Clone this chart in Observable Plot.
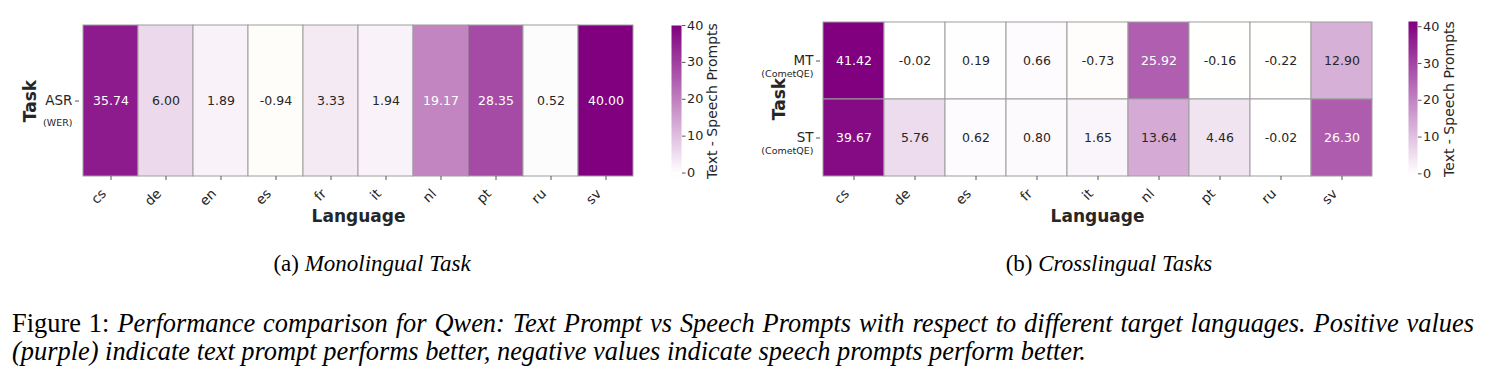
<!DOCTYPE html>
<html>
<head>
<meta charset="utf-8">
<script src="https://cdn.jsdelivr.net/npm/d3@7"></script>
<script src="https://cdn.jsdelivr.net/npm/@observablehq/plot@0.6"></script>
<style>
  body { margin: 0; background: #fff; }
  #figure { position: relative; width: 1486px; height: 382px; overflow: hidden; background: #fff; }
  .slot { position: absolute; top: 0; }
  .subcaption, .caption {
    position: absolute; font-family: "Liberation Serif", "Times New Roman", serif; color: #000; white-space: nowrap;
  }
  .subcaption { font-size: 23px; top: 251px; text-align: center; }
  .caption { font-size: 26.4px; left: 12px; line-height: 28px; }
  .caption.first { top: 309px; width: 1462px; text-align: justify; text-align-last: justify; }
  .caption.second { top: 337px; }
  em { font-style: italic; }
</style>
</head>
<body>
<div id="figure"></div>
<script>
// Text-prompt minus speech-prompt scores per target language
const monoLanguages = ["cs", "de", "en", "es", "fr", "it", "nl", "pt", "ru", "sv"];
const monoTasks = ["ASR"];
const monoMetrics = ["(WER)"];
const asrDiff = [35.74, 6.00, 1.89, -0.94, 3.33, 1.94, 19.17, 28.35, 0.52, 40.00];

const crossLanguages = ["cs", "de", "es", "fr", "it", "nl", "pt", "ru", "sv"];
const crossTasks = ["MT", "ST"];
const crossMetrics = ["(CometQE)", "(CometQE)"];
const mtDiff = [41.42, -0.02, 0.19, 0.66, -0.73, 25.92, -0.16, -0.22, 12.90];
const stDiff = [39.67, 5.76, 0.62, 0.80, 1.65, 13.64, 4.46, -0.02, 26.30];

const colorbarTicks = [0, 10, 20, 30, 40];
const colorbarLabel = "Text - Speech Prompts";
const xTitle = "Language";
const yTitle = "Task";

// Diverging map centred on zero: orange (negative) -> white -> purple (positive)
const colorRange = ["#ffa500", "#ffffff", "#800080"];
const darkText = "#262626";
const tickColor = "#555";
const fontFamily = "DejaVu Sans, sans-serif";

function relativeLuminance(c) {
  const {r, g, b} = d3.rgb(c);
  const lin = (v) => { v /= 255; return v <= 0.03928 ? v / 12.92 : Math.pow((v + 0.055) / 1.055, 2.4); };
  return 0.2126 * lin(r) + 0.7152 * lin(g) + 0.0722 * lin(b);
}

function place(node, left) {
  const slot = document.createElement("div");
  slot.className = "slot";
  slot.style.left = left + "px";
  slot.appendChild(node);
  document.getElementById("figure").appendChild(slot);
}

function panel({languages, tasks, metrics, rows, left, width, marginLeft, marginRight, marginTop, metricDy, titleDx, bar}) {
  const table = tasks.flatMap((task, i) => languages.map((lang, j) => ({task, lang, value: rows[i][j]})));
  const taskRows = tasks.map((task, i) => ({task, metric: metrics[i]}));
  const vmin = d3.min(table, (d) => d.value);
  const vmax = d3.max(table, (d) => d.value);
  const span = Math.max(vmax, -vmin);
  const color = {type: "linear", domain: [-span, 0, span], range: colorRange, interpolate: "rgb"};
  const toColor = d3.scaleLinear().domain(color.domain).range(colorRange).interpolate(d3.interpolateRgb);
  const isDark = (d) => relativeLuminance(toColor(d.value)) <= 0.408;
  const height = 240, marginBottom = 64;
  const style = {fontFamily, color: darkText, background: "transparent", overflow: "visible"};

  const heat = Plot.plot({
    width, height, marginLeft, marginRight, marginTop, marginBottom, style,
    x: {type: "band", domain: languages, padding: 0},
    y: {type: "band", domain: tasks, padding: 0},
    color,
    marks: [
      Plot.cell(table, {x: "lang", y: "task", fill: "value", stroke: "#9e9e9e", strokeWidth: 1}),
      Plot.text(table, {filter: (d) => !isDark(d), x: "lang", y: "task", text: (d) => d.value.toFixed(2), fill: darkText, fontSize: 12.5}),
      Plot.text(table, {filter: isDark, x: "lang", y: "task", text: (d) => d.value.toFixed(2), fill: "white", fontSize: 12.5}),
      // x ticks, then the rotated language labels hanging below and left of each tick
      Plot.axisX({tickSize: 4, fill: "none", stroke: tickColor, label: null}),
      Plot.axisX({tickRotate: -45, tickSize: 4, tickPadding: 2, dx: -7, dy: 9, fontSize: 13.5, stroke: "none", fill: darkText, label: null}),
      Plot.axisY({tickSize: 4, tickPadding: 3, fontSize: 13.5, label: null, stroke: tickColor}),
      Plot.text(taskRows, {y: "task", text: "metric", frameAnchor: "left", textAnchor: "end", dx: -7, dy: metricDy, fontSize: 9.5}),
      Plot.text([yTitle], {text: (d) => d, frameAnchor: "left", textAnchor: "middle", dx: titleDx, rotate: -90, fontWeight: "bold", fontSize: 17}),
      Plot.text([xTitle], {text: (d) => d, frameAnchor: "bottom", textAnchor: "middle", dy: 40, lineAnchor: "middle", fontWeight: "bold", fontSize: 17})
    ]
  });
  place(heat, left);

  const legend = Plot.plot({
    width: bar.width, height, marginLeft: bar.marginLeft, marginRight: bar.width - bar.marginLeft - bar.size,
    marginTop, marginBottom, style,
    x: {domain: [0, 1], axis: null},
    y: {domain: [vmin, vmax], axis: null},
    color,
    marks: [
      Plot.raster({x1: 0, x2: 1, y1: vmin, y2: vmax, width: 1, height: 300, fill: (x, y) => y, imageRendering: "auto"}),
      Plot.axisY(colorbarTicks, {anchor: "right", tickSize: 3.5, tickPadding: 2, fontSize: 12.8, label: null, stroke: tickColor}),
      Plot.text([colorbarLabel], {text: (d) => d, frameAnchor: "right", textAnchor: "middle", dx: bar.labelDx, rotate: -90, fontSize: 14})
    ]
  });
  place(legend, bar.left);
}

panel({
  languages: monoLanguages, tasks: monoTasks, metrics: monoMetrics, rows: [asrDiff],
  left: 0, width: 650, marginLeft: 79, marginRight: 13, marginTop: 25, metricDy: 22, titleDx: -49,
  bar: {left: 665, width: 85, marginLeft: 6, size: 10, labelDx: 31}
});

panel({
  languages: crossLanguages, tasks: crossTasks, metrics: crossMetrics, rows: [mtDiff, stDiff],
  left: 750, width: 636, marginLeft: 70, marginRight: 12, marginTop: 21, metricDy: 12.5, titleDx: -41,
  bar: {left: 1402, width: 84, marginLeft: 6, size: 9, labelDx: 32}
});

// Captions
const fig = document.getElementById("figure");
function addHTML(cls, html, styles) {
  const el = document.createElement("div");
  el.className = cls;
  el.innerHTML = html;
  Object.assign(el.style, styles || {});
  fig.appendChild(el);
  return el;
}
addHTML("subcaption", "(a) <em>Monolingual Task</em>", {left: "172px", width: "400px"});
addHTML("subcaption", "(b) <em>Crosslingual Tasks</em>", {left: "909px", width: "400px"});
addHTML("caption first", "Figure 1: <em>Performance comparison for Qwen: Text Prompt vs Speech Prompts with respect to different target languages. Positive values</em>");
addHTML("caption second", "<em>(purple) indicate text prompt performs better, negative values indicate speech prompts perform better.</em>");
</script>
</body>
</html>
